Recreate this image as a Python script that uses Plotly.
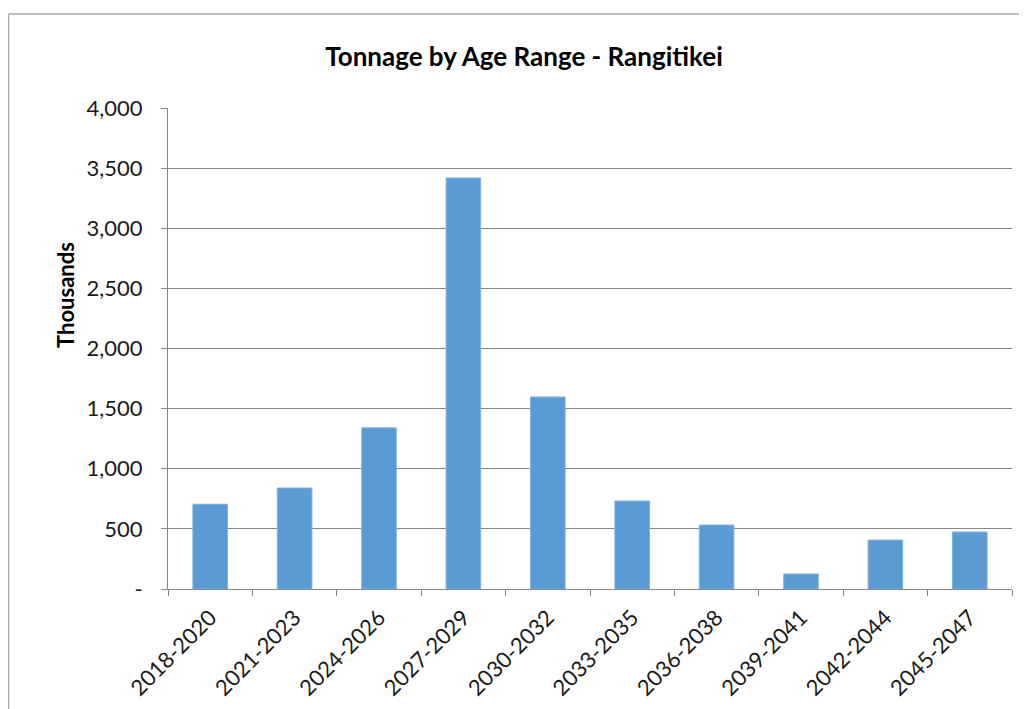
import plotly.graph_objects as go

categories = ["2018-2020", "2021-2023", "2024-2026", "2027-2029", "2030-2032",
              "2033-2035", "2036-2038", "2039-2041", "2042-2044", "2045-2047"]
values = [705, 840, 1340, 3418, 1597, 732, 532, 125, 407, 474]
ytick_vals = [0, 500, 1000, 1500, 2000, 2500, 3000, 3500, 4000]
ytick_text = ["-", "500", "1,000", "1,500", "2,000", "2,500", "3,000", "3,500", "4,000"]

OFF = 8  # page body margin
W, H = 1027 - OFF, 709 - OFF
L, R, T, B = 168 - OFF, 15, 108 - OFF, 120
pw, ph = W - L - R, H - T - B

FONT = "Lato"
fig = go.Figure(go.Bar(
    x=categories, y=values,
    marker=dict(color="#5B9BD5", line=dict(color="#7FB2E0", width=1)),
))

def px_x(x):
    return (x - OFF - L) / pw

def px_y(y):
    return (589 - y) / ph

fig.update_layout(
    width=W, height=H,
    margin=dict(l=L, r=R, t=T, b=B, autoexpand=False),
    paper_bgcolor="white", plot_bgcolor="white",
    bargap=0.59,
    showlegend=False,
    font=dict(family=FONT, color="#1a1a1a"),
    title=dict(text="<b>Tonnage by Age Range - Rangitikei</b>",
               x=(524 - OFF) / W, xref="container", xanchor="center",
               y=1 - (57 - OFF) / H, yref="container", yanchor="middle",
               font=dict(size=26, family=FONT, color="#000")),
    xaxis=dict(
        type="category",
        showline=True, linecolor="#868686", linewidth=1,
        ticks="outside", ticklen=6, tickcolor="#868686", tickson="boundaries",
        tickangle=-45, tickfont=dict(size=22, family=FONT, color="#1a1a1a"),
        ticklabelstandoff=6,
        showgrid=False,
    ),
    yaxis=dict(
        range=[0, 4000],
        tickvals=ytick_vals, ticktext=ytick_text,
        showline=True, linecolor="#868686", linewidth=1,
        ticks="outside", ticklen=6, tickcolor="#868686",
        ticklabelstandoff=14,
        showgrid=True, gridcolor="#868686", gridwidth=1,
        tickfont=dict(size=22, family=FONT, color="#1a1a1a"),
        zeroline=False,
    ),
    annotations=[dict(
        text="<b>Thousands</b>", textangle=-90,
        xref="paper", yref="paper",
        x=px_x(65), y=px_y(295),
        xanchor="center", yanchor="middle", showarrow=False,
        font=dict(size=22, family=FONT, color="#000"),
    )],
    shapes=[
        dict(type="line", xref="paper", yref="paper",
             x0=px_x(OFF + 0.5), x1=px_x(1040),
             y0=px_y(14), y1=px_y(14),
             line=dict(color="#a6a6a6", width=1.5)),
        dict(type="line", xref="paper", yref="paper",
             x0=px_x(OFF + 0.5), x1=px_x(OFF + 0.5),
             y0=px_y(14), y1=px_y(720),
             line=dict(color="#a6a6a6", width=1.5)),
    ],
)

fig.write_html("out.html")
